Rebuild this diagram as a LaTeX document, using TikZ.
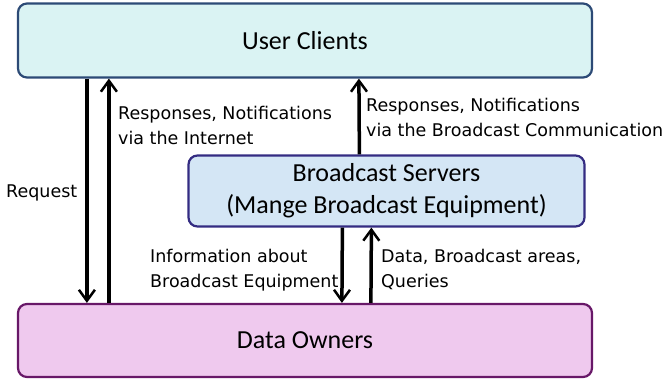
\documentclass[tikz,border=0pt]{standalone}
\usepackage{fontspec}
\setmainfont{Carlito}
\newfontfamily\labelfont{DejaVu Sans}
\usetikzlibrary{arrows.meta}
\definecolor{cliblue}{RGB}{218,243,243}
\definecolor{cliedge}{RGB}{44,74,118}
\definecolor{srvblue}{RGB}{212,230,245}
\definecolor{srvedge}{RGB}{52,44,130}
\definecolor{ownpink}{RGB}{239,201,238}
\definecolor{ownedge}{RGB}{104,24,104}
\tikzset{
  party/.style={draw, line width=2.2pt, rounded corners=9pt, align=center,
    inner sep=0pt, font=\fontsize{26}{32}\selectfont},
  flow/.style={-{Straight Barb[length=11pt,width=16pt,line width=2.5pt]}, line width=3.5pt, black},
  flowtext/.style={anchor=west, align=left, inner sep=0pt,
    font=\labelfont\fontsize{17.5}{25}\selectfont}
}
\begin{document}
\begin{tikzpicture}[x=1pt,y=-1pt]
  \useasboundingbox (0,0) rectangle (665,380);
  % the three parties
  \node[party, fill=cliblue, draw=cliedge, minimum width=574pt, minimum height=74pt]
    (clients) at (305,40.5) {User Clients};
  \node[party, fill=srvblue, draw=srvedge, minimum width=396pt, minimum height=71pt]
    (servers) at (386.5,191) {Broadcast Servers\\(Mange Broadcast Equipment)};
  \node[party, fill=ownpink, draw=ownedge, minimum width=574pt, minimum height=73pt]
    (owners) at (305,340.5) {Data Owners};
  % flows between them
  \draw[flow] ([xshift=70pt]clients.south west) -- ([xshift=70pt]owners.north west);
  \draw[flow] ([xshift=92pt]owners.north west) -- ([xshift=92pt]clients.south west);
  \draw[flow] ([xshift=172pt]servers.north west) -- ([xshift=342pt]clients.south west);
  \draw[flow] ([xshift=155pt]servers.south west) -- ([xshift=325pt]owners.north west);
  \draw[flow] ([xshift=354pt]owners.north west) -- ([xshift=184pt]servers.south west);
  % labels
  \node[flowtext] (request) at (6,193) {Request};
  \node[flowtext] (internet) at (118,125) {Responses, Notifications\\via the Internet};
  \node[flowtext] (broadcast) at (366,117) {Responses, Notifications\\via the Broadcast Communication};
  \node[flowtext] (equip) at (150,270) {Information about\\Broadcast Equipment};
  \node[flowtext] (queries) at (381,269) {Data, Broadcast areas,\\Queries};
\end{tikzpicture}
\end{document}
